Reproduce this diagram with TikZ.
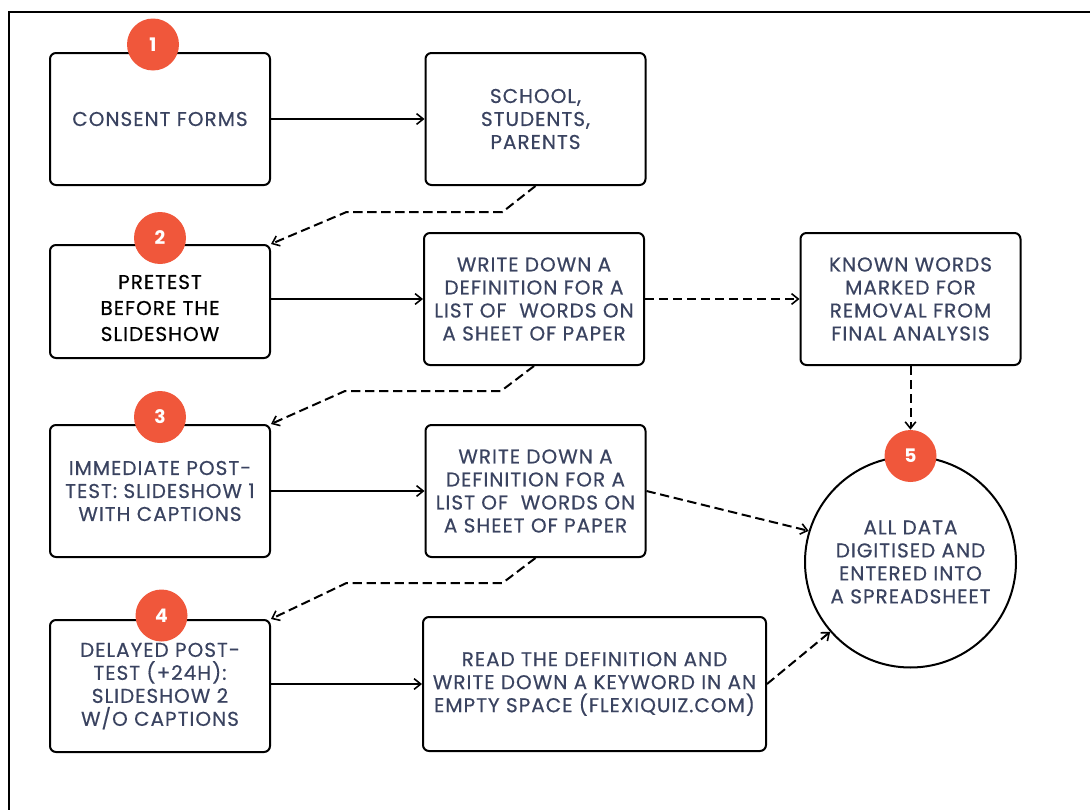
\documentclass[tikz,border=0pt]{standalone}
\usepackage{fontspec}
\setmainfont{Poppins}
\newfontfamily\boxfont[LetterSpace=5,FakeBold=0.5]{Poppins}
\usetikzlibrary{arrows.meta}
\definecolor{txtc}{HTML}{3A4360}
\definecolor{badgec}{HTML}{F0573B}
\begin{document}
\begin{tikzpicture}[x=0.75pt,y=-0.75pt,
  stepbox/.style={draw=black,line width=1.5pt,rounded corners=4.5pt,minimum width=165pt,minimum height=99pt,inner sep=0pt,align=center,text=txtc,font=\boxfont\fontsize{15}{17.25}\selectfont},
  txtnode/.style={inner sep=0pt,align=center,text=txtc,font=\boxfont\fontsize{15}{17.25}\selectfont},
  badge/.style={circle,fill=badgec,minimum size=39pt,inner sep=0pt,text=white,font=\fontsize{14}{16}\selectfont\bfseries},
  solidarrow/.style={line width=1.2pt,-{Straight Barb[length=5pt,width=8pt,line width=1.2pt]}},
  dasharrow/.style={line width=1.5pt,dash pattern=on 7pt off 3.5pt,-{Straight Barb[length=5pt,width=8pt,line width=1.2pt]}}]
\useasboundingbox (0,0) rectangle (1090,810);
\draw[line width=1.5pt] (9,810) -- (9,12) -- (1090,12);

\node[stepbox] (consent) at (160,119) {CONSENT FORMS};
\node[stepbox] (school) at (535.5,119) {SCHOOL,\\STUDENTS,\\PARENTS};
\node[stepbox,minimum height=84.75pt] (pre) at (160,301.5) {};
\node[txtnode,text=black,font=\boxfont\fontsize{15}{19.5}\selectfont] (pretxt) at (160,308) {PRETEST\\BEFORE THE\\SLIDESHOW};
\node[stepbox] (w1) at (534,299) {WRITE DOWN A\\DEFINITION FOR A\\LIST OF \ WORDS ON\\A SHEET OF PAPER};
\node[stepbox] (known) at (910.5,299) {KNOWN WORDS\\MARKED FOR\\REMOVAL FROM\\FINAL ANALYSIS};
\node[stepbox] (imm) at (160,491) {IMMEDIATE POST-\\TEST: SLIDESHOW 1\\WITH CAPTIONS};
\node[stepbox] (w2) at (535.5,491) {WRITE DOWN A\\DEFINITION FOR A\\LIST OF \ WORDS ON\\A SHEET OF PAPER};
\node[stepbox] (del) at (160,686) {DELAYED POST-\\TEST (+24H):\\SLIDESHOW 2\\W/O CAPTIONS};
\node[stepbox,minimum width=257.25pt,minimum height=100.5pt] (read) at (594.5,684) {READ THE DEFINITION AND\\WRITE DOWN A KEYWORD IN AN\\EMPTY SPACE (FLEXIQUIZ.COM)};
\node[draw=black,line width=1.5pt,circle,minimum size=158.25pt,inner sep=0pt,align=center,text=txtc,font=\boxfont\fontsize{15}{17.25}\selectfont] (all) at (910.5,562) {ALL DATA\\DIGITISED AND\\ENTERED INTO\\A SPREADSHEET};

\node[badge] (b1) at (153,44.5) {1};
\node[badge] (b2) at (160,238) {2};
\node[badge] (b3) at (160,417) {3};
\node[badge] (b4) at (161.5,615.5) {4};
\node[badge] (b5) at (910.5,456) {5};

\draw[solidarrow] (consent.east) -- (school.west);
\draw[solidarrow] (pre.east |- w1.west) -- (w1.west);
\draw[solidarrow] (imm.east) -- (w2.west);
\draw[solidarrow] (del.east |- read.west) -- (read.west);
\draw[dasharrow] (w1.east) -- (known.west);
\draw[dasharrow] (known.south) -- (b5.north);
\draw[dasharrow] (w2.east) -- (all.163.5);
\draw[dasharrow] (read.east) -- (all.221);
\draw[dasharrow] (school.south) -- ++(-33,26) -- ++(-156,0) -- (pre.north east);
\draw[dasharrow] (w1.south) -- ++(-33,25) -- ++(-156,0) -- (imm.north east);
\draw[dasharrow] (w2.south) -- ++(-33,25) -- ++(-156,0) -- (del.north east);
\end{tikzpicture}
\end{document}
